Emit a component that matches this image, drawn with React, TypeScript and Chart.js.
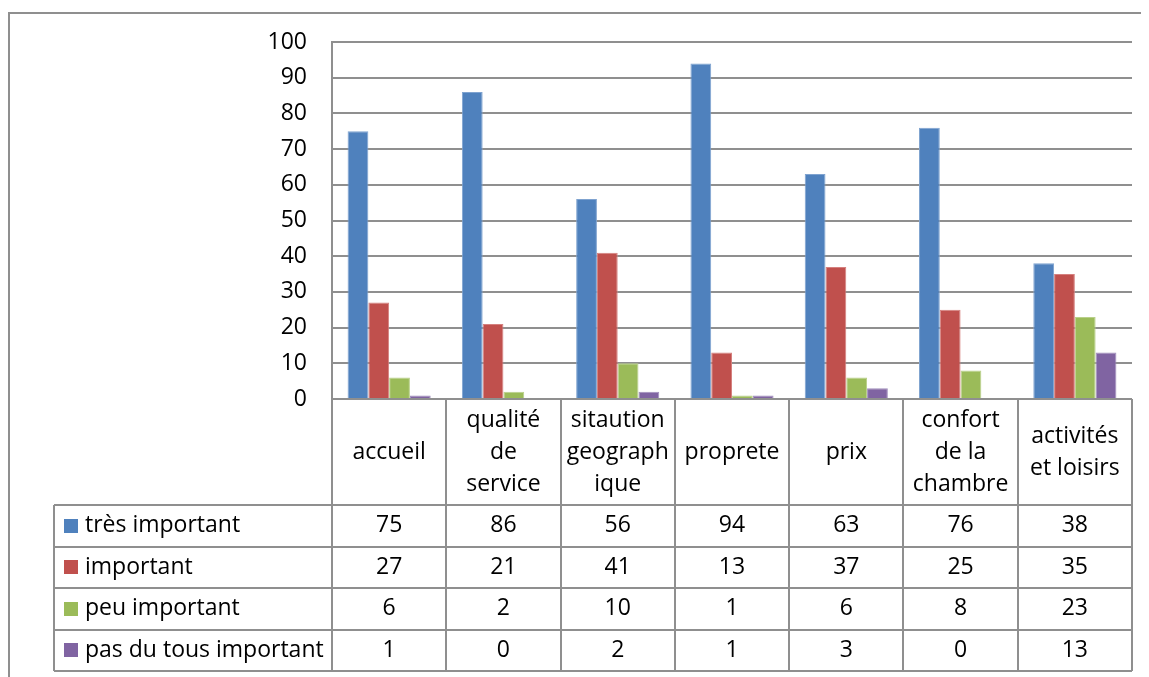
import React, { useEffect, useRef } from "react";
import { Chart, registerables } from "chart.js";

Chart.register(...registerables);

// Categories (full names) and how each wraps in the table header
const categories = [
  "accueil",
  "qualité de service",
  "sitaution geographique",
  "proprete",
  "prix",
  "confort de la chambre",
  "activités et loisirs",
];
const categoryLines = [
  ["accueil"],
  ["qualité", "de", "service"],
  ["sitaution", "geograph", "ique"],
  ["proprete"],
  ["prix"],
  ["confort", "de la", "chambre"],
  ["activités", "et loisirs"],
];

const seriesNames = ["très important", "important", "peu important", "pas du tous important"];
const tresImportant = [75, 86, 56, 94, 63, 76, 38];
const important = [27, 21, 41, 13, 37, 25, 35];
const peuImportant = [6, 2, 10, 1, 6, 8, 23];
const pasDuTousImportant = [1, 0, 2, 1, 3, 0, 13];
const seriesColors = ["#4F81BD", "#C0504D", "#9BBB59", "#8064A2"];
const seriesBorders = ["#7FA3D0", "#D5807E", "#B9D08A", "#A08EBC"];

const yMin = 0;
const yMax = 100;
const yStep = 10;

const FONT = "'Open Sans', 'Noto Sans', sans-serif";
const FONT_SIZE = 23;
const LINE_COLOR = "#8f8f8f";

// Plot rectangle and table geometry (canvas px)
const PLOT_LEFT = 324;
const PLOT_RIGHT = 1124;
const PLOT_TOP = 34;
const PLOT_BOTTOM = 391;
const HEADER_BOTTOM = 497;
const ROW_HEIGHT = 41.5;
const LEGEND_LEFT = 46;

// Pin the plot rectangle so the table below lines up with the columns
const fixedAreaPlugin = {
  id: "fixedArea",
  afterLayout(chart: any) {
    const a = chart.chartArea;
    a.left = PLOT_LEFT;
    a.right = PLOT_RIGHT;
    a.top = PLOT_TOP;
    a.bottom = PLOT_BOTTOM;
    a.width = PLOT_RIGHT - PLOT_LEFT;
    a.height = PLOT_BOTTOM - PLOT_TOP;
    const y = chart.scales.y;
    y.top = PLOT_TOP;
    y.bottom = PLOT_BOTTOM;
    y.height = PLOT_BOTTOM - PLOT_TOP;
    y.right = PLOT_LEFT;
    y.left = 0;
    y.configure();
    const x = chart.scales.x;
    x.left = PLOT_LEFT;
    x.right = PLOT_RIGHT;
    x.width = PLOT_RIGHT - PLOT_LEFT;
    x.configure();
  },
};

const dataTablePlugin = {
  id: "dataTable",
  afterDraw(chart: any) {
    const { ctx, chartArea: a } = chart;
    const values = [tresImportant, important, peuImportant, pasDuTousImportant];
    const n = categories.length;
    const colW = (a.right - a.left) / n;
    const top = a.bottom;
    const tableBottom = HEADER_BOTTOM + ROW_HEIGHT * seriesNames.length;

    ctx.save();
    ctx.strokeStyle = LINE_COLOR;
    ctx.lineWidth = 2;

    // outer frame of the chart object
    ctx.strokeRect(1, 5, 3000, 3000);

    // vertical separators of the category columns
    for (let i = 0; i <= n; i++) {
      const x = Math.round(a.left + i * colW);
      ctx.beginPath();
      ctx.moveTo(x, top);
      ctx.lineTo(x, tableBottom);
      ctx.stroke();
    }
    // legend column left edge
    ctx.beginPath();
    ctx.moveTo(LEGEND_LEFT, HEADER_BOTTOM);
    ctx.lineTo(LEGEND_LEFT, tableBottom);
    ctx.stroke();
    // horizontal lines
    for (let r = 0; r <= seriesNames.length; r++) {
      const y = Math.round(HEADER_BOTTOM + r * ROW_HEIGHT);
      ctx.beginPath();
      ctx.moveTo(LEGEND_LEFT, y);
      ctx.lineTo(a.right, y);
      ctx.stroke();
    }

    ctx.fillStyle = "#000";
    ctx.font = `${FONT_SIZE}px ${FONT}`;
    ctx.textAlign = "center";
    ctx.textBaseline = "middle";

    // category header labels
    const lineH = 32;
    const headerMid = (top + HEADER_BOTTOM) / 2;
    categoryLines.forEach((lines, i) => {
      const cx = a.left + (i + 0.5) * colW;
      const y0 = headerMid - ((lines.length - 1) * lineH) / 2;
      lines.forEach((t, k) => ctx.fillText(t, cx, y0 + k * lineH));
    });

    // data rows
    seriesNames.forEach((name, r) => {
      const cy = HEADER_BOTTOM + (r + 0.5) * ROW_HEIGHT;
      ctx.fillStyle = seriesColors[r];
      ctx.fillRect(56, Math.round(cy - 7), 14, 14);
      ctx.fillStyle = "#000";
      ctx.textAlign = "left";
      ctx.fillText(name, 77, cy);
      ctx.textAlign = "center";
      values[r].forEach((v, i) => {
        ctx.fillText(String(v), a.left + (i + 0.5) * colW, cy);
      });
    });
    ctx.restore();
  },
};

export default function App() {
  const ref = useRef<HTMLCanvasElement | null>(null);

  useEffect(() => {
    if (!ref.current) return;
    const series = [tresImportant, important, peuImportant, pasDuTousImportant];
    const chart = new Chart(ref.current, {
      type: "bar",
      data: {
        labels: categories,
        datasets: series.map((d, i) => ({
          label: seriesNames[i],
          data: d,
          backgroundColor: seriesColors[i],
          borderColor: seriesBorders[i],
          borderWidth: 1,
          categoryPercentage: 4 / 5.5,
          barPercentage: 1,
        })),
      },
      options: {
        animation: false,
        responsive: false,
        events: [],
        layout: { padding: { left: 0, right: 17, top: 30, bottom: 278 } },
        plugins: { legend: { display: false }, tooltip: { enabled: false } },
        scales: {
          x: { display: false },
          y: {
            min: yMin,
            max: yMax,
            ticks: {
              stepSize: yStep,
              padding: 25,
              color: "#000",
              font: { family: FONT, size: FONT_SIZE },
            },
            grid: { color: LINE_COLOR, lineWidth: 2, drawTicks: false },
            border: { display: true, color: LINE_COLOR, width: 2 },
            afterFit(scale: any) {
              scale.width = PLOT_LEFT;
            },
          },
        },
      },
      plugins: [fixedAreaPlugin, dataTablePlugin],
    });
    return () => chart.destroy();
  }, []);

  return (
    <div style={{ width: 1141, height: 669 }}>
      <canvas ref={ref} width={1141} height={669} style={{ display: "block" }} />
    </div>
  );
}
